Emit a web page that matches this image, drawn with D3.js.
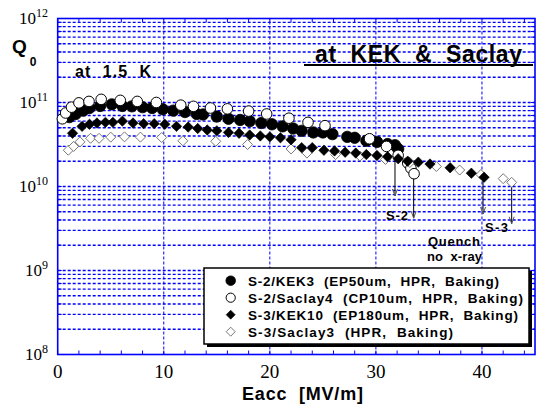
<!DOCTYPE html>
<html><head><meta charset="utf-8">
<script src="https://cdn.jsdelivr.net/npm/d3@7"></script>
<style>body{margin:0;background:#fff} svg{display:block} text{white-space:pre}</style>
</head><body><svg id="c" width="536" height="407"></svg>
<script>
// ---- data ----
const kek3E = [1.1,1.7,2.4,3.0,4.0,5.1,6.1,7.0,8.0,8.9,9.9,10.9,12.0,13.1,13.7,15.0,16.1,17.2,18.1,19.2,20.2,21.2,22.2,23.0,24.1,25.0,25.9,27.3,28.0,29.1,30.1,31.1,31.8,32.1];
const kek3Q = [6.7e10,7.3e10,8.0e10,8.6e10,9.1e10,9.5e10,9.1e10,9.0e10,8.8e10,8.6e10,8.3e10,8.0e10,7.7e10,7.3e10,7.2e10,6.8e10,6.4e10,6.2e10,6.0e10,5.7e10,5.5e10,5.2e10,4.9e10,4.6e10,4.4e10,4.4e10,4.2e10,3.9e10,3.8e10,3.5e10,3.4e10,3.2e10,3.1e10,2.8e10];
const saclay4E = [0.44,0.75,1.3,2.0,2.95,4.1,5.9,7.5,9.3,11.6,12.8,14.4,16.0,18.0,19.7,21.8,23.6,25.2,29.4,31.0,32.1,33.0,33.3,33.6];
const saclay4Q = [6.4e10,7.5e10,8.8e10,9.9e10,1.03e11,1.09e11,1.06e11,1.03e11,1.0e11,9.3e10,9.0e10,8.6e10,8.4e10,7.9e10,7.3e10,6.5e10,5.8e10,5.3e10,3.7e10,3.0e10,2.35e10,1.9e10,1.65e10,1.42e10];
const kek10E = [1.4,2.3,3.0,3.7,4.5,5.2,6.1,7.1,8.1,9.1,10.1,11.2,12.3,13.2,14.1,15.0,16.1,17.1,18.1,19.1,20.0,21.0,22.0,23.0,24.0,25.1,26.1,27.1,28.1,29.1,30.1,31.1,32.1,33.0,34.0,35.1,37.0,39.0,40.2];
const kek10Q = [4.3e10,5.2e10,5.5e10,5.7e10,5.8e10,5.8e10,6.0e10,5.7e10,5.6e10,5.6e10,5.5e10,5.2e10,5.1e10,4.9e10,4.7e10,4.6e10,4.4e10,4.3e10,4.1e10,4.0e10,3.9e10,3.8e10,3.6e10,2.9e10,2.9e10,2.7e10,2.65e10,2.56e10,2.5e10,2.4e10,2.34e10,2.26e10,2.14e10,2.0e10,1.95e10,1.85e10,1.67e10,1.44e10,1.29e10];
const saclay3E = [1.0,1.5,2.1,3.1,3.9,5.0,6.3,7.8,9.8,11.8,14.9,17.9,22.0,23.5,26.2,28.5,30.9,33.2,35.7,37.9,39.9,42.0,42.8];
const saclay3Q = [2.7e10,3.0e10,3.4e10,3.75e10,3.75e10,3.87e10,3.9e10,3.87e10,3.83e10,3.5e10,3.45e10,3.16e10,2.8e10,2.5e10,2.4e10,2.3e10,2.1e10,1.93e10,1.73e10,1.57e10,1.39e10,1.24e10,1.12e10];

const xTickLabels = [0,10,20,30,40];
const yTickExps = [8,9,10,11,12];
const legendLabels = ["S-2/KEK3  (EP50um,  HPR,  Baking)","S-2/Saclay4  (CP10um,  HPR,  Baking)","S-3/KEK10  (EP180um,  HPR,  Baking)","S-3/Saclay3  (HPR,  Baking)"];
// quench arrows: E position, top Q, bottom Q
const quenchE = [31.8, 33.56, 40.1, 42.8];
const quenchTop = [2.8e10, 1.42e10, 1.29e10, 1.12e10];
const quenchBot = [7.7e9, 4.2e9, 4.7e9, 3.6e9];

// ---- chart ----
const svg = d3.select("#c");
const x = d3.scaleLinear().domain([0,45]).range([57.7,535]);
const y = d3.scaleLog().domain([1e8,1e12]).range([354.5,18.5]);
const blue = "#0000ff";
const [x0,x1] = x.range(), [y0,y1] = y.range();

const gridVals = [];
for (let d=8; d<12; d++) for (let m=1; m<=9; m++) gridVals.push(m*Math.pow(10,d));
gridVals.push(1e12);

svg.append("g").selectAll("line").data(gridVals.filter(v=>v>1e8 && v<1e12)).join("line")
  .attr("x1",x0).attr("x2",x1).attr("y1",d=>y(d)).attr("y2",d=>y(d))
  .attr("stroke",blue).attr("stroke-width",1.4).attr("stroke-dasharray","3,2");
svg.append("g").selectAll("line").data(xTickLabels.filter(v=>v>0)).join("line")
  .attr("x1",d=>x(d)).attr("x2",d=>x(d)).attr("y1",y0).attr("y2",y1)
  .attr("stroke",blue).attr("stroke-width",1).attr("stroke-dasharray","3,2");

const xt = d3.range(0,45,2);
svg.append("g").selectAll("line").data(xt).join("line")
  .attr("x1",d=>x(d)).attr("x2",d=>x(d)).attr("y1",y0).attr("y2",y0-4).attr("stroke",blue).attr("stroke-width",1);
svg.append("g").selectAll("line").data(xt).join("line")
  .attr("x1",d=>x(d)).attr("x2",d=>x(d)).attr("y1",y1).attr("y2",y1+4).attr("stroke",blue).attr("stroke-width",1);
svg.append("g").selectAll("line").data(gridVals).join("line")
  .attr("x1",x0).attr("x2",x0+4).attr("y1",d=>y(d)).attr("y2",d=>y(d)).attr("stroke",blue).attr("stroke-width",1);
svg.append("g").selectAll("line").data(gridVals).join("line")
  .attr("x1",x1).attr("x2",x1-4).attr("y1",d=>y(d)).attr("y2",d=>y(d)).attr("stroke",blue).attr("stroke-width",1);

svg.append("rect").attr("x",x0).attr("y",y1).attr("width",x1-x0).attr("height",y0-y1)
  .attr("fill","none").attr("stroke",blue).attr("stroke-width",1.6);

svg.append("g").selectAll("text").data(xTickLabels).join("text")
  .attr("x",d=>x(d)).attr("y",378).attr("text-anchor","middle")
  .attr("font-family","Liberation Serif, Times New Roman, serif").attr("font-size",19).text(d=>d);
const yl = svg.append("g").selectAll("text").data(yTickExps).join("text")
  .attr("x",48).attr("y",d=>y(Math.pow(10,d))+5.5).attr("text-anchor","end")
  .attr("font-family","Liberation Serif, Times New Roman, serif").attr("font-size",17);
yl.append("tspan").text("10");
yl.append("tspan").attr("dy",-7).attr("font-size",12).text(d=>d);

const qt = svg.append("text").attr("x",12).attr("y",53).attr("font-family","Liberation Sans, Arial, sans-serif").attr("font-weight","bold").attr("font-size",19);
qt.append("tspan").text("Q");
qt.append("tspan").attr("dx",3).attr("dy",13).attr("font-size",12).text("0");
svg.append("text").attr("x",242).attr("y",400).attr("font-family","Liberation Sans, Arial, sans-serif")
  .attr("font-weight","bold").attr("font-size",18).attr("textLength",121).attr("lengthAdjust","spacing").text("Eacc  [MV/m]");

svg.append("text").attr("x",75).attr("y",77).attr("font-family","Liberation Sans, Arial, sans-serif")
  .attr("font-weight","bold").attr("font-size",16).attr("textLength",76).attr("lengthAdjust","spacing").text("at  1.5  K");
svg.append("text").attr("x",315).attr("y",61.5).attr("font-family","Liberation Sans, Arial, sans-serif")
  .attr("font-weight","bold").attr("font-size",23).attr("textLength",207).attr("lengthAdjust","spacing").text("at  KEK  &  Saclay");
svg.append("line").attr("x1",304).attr("x2",533).attr("y1",65).attr("y2",65).attr("stroke","#000").attr("stroke-width",2);

const qg = svg.append("g").attr("stroke","#000").attr("stroke-width",1).attr("fill","none");
quenchE.forEach((e,i)=>{
  const px = x(e), t = y(quenchTop[i]), b = y(quenchBot[i]);
  qg.append("line").attr("x1",px).attr("x2",px).attr("y1",t).attr("y2",b);
  qg.append("path").attr("d",`M${px-2.5},${b-7}L${px},${b}L${px+2.5},${b-7}`).attr("stroke","#555");
});
const af = {"font-family":"Liberation Sans, Arial, sans-serif","font-weight":"bold","font-size":13};
function txt(xp,yp,s,len){const t=svg.append("text").attr("x",xp).attr("y",yp).text(s);for(const k in af)t.attr(k,af[k]);if(len)t.attr("textLength",len).attr("lengthAdjust","spacing");return t;}
txt(386,220,"S-2",22);
txt(485,231.5,"S-3",23);
txt(428,246,"Quench",52);
txt(427,261,"no  x-ray",55);

const diamond = r => `M0,${-r}L${r},0L0,${r}L${-r},0Z`;
const circ = r => d3.arc()({innerRadius:0,outerRadius:r,startAngle:0,endAngle:2*Math.PI});
const styles = [
  {shape:circ(5.7), fill:"#000", stroke:"#000", sw:0.8},
  {shape:circ(5.3), fill:"#fff", stroke:"#000", sw:1},
  {shape:diamond(5.2), fill:"#000", stroke:"#000", sw:0.6},
  {shape:diamond(5), fill:"#fff", stroke:"#777", sw:1}
];
const series = [[kek3E,kek3Q],[saclay4E,saclay4Q],[kek10E,kek10Q],[saclay3E,saclay3Q]];
const order = [0,1,3,2];
order.forEach(i=>{
  const [E,Q] = series[i], st = styles[i];
  svg.append("g").selectAll("path").data(E.map((e,j)=>[e,Q[j]])).join("path")
    .attr("d",st.shape).attr("transform",d=>`translate(${x(d[0])},${y(d[1])})`)
    .attr("fill",st.fill).attr("stroke",st.stroke).attr("stroke-width",st.sw);
});

const lg = svg.append("g");
lg.append("rect").attr("x",207).attr("y",271).attr("width",325).attr("height",76).attr("fill","#000");
lg.append("rect").attr("x",204).attr("y",268).attr("width",325).attr("height",76).attr("fill","#fff").attr("stroke","#000").attr("stroke-width",1.5);
const lStyles = [
  {shape:circ(4.8), fill:"#000", stroke:"#000", sw:0.8},
  {shape:circ(4.6), fill:"#fff", stroke:"#000", sw:1},
  {shape:diamond(4.5), fill:"#000", stroke:"#000", sw:0.6},
  {shape:diamond(4.5), fill:"#fff", stroke:"#777", sw:1}
];
const lLens = [251,275,270,205];
legendLabels.forEach((s,i)=>{
  const ry = 280.7 + i*17;
  lg.append("path").attr("d",lStyles[i].shape).attr("transform",`translate(230.7,${ry})`)
    .attr("fill",lStyles[i].fill).attr("stroke",lStyles[i].stroke).attr("stroke-width",lStyles[i].sw);
  lg.append("text").attr("x",248).attr("y",ry+5).attr("font-family","Liberation Sans, Arial, sans-serif")
    .attr("font-weight","bold").attr("font-size",13.5).attr("textLength",lLens[i]).attr("lengthAdjust","spacing").text(s);
});
</script></body></html>
